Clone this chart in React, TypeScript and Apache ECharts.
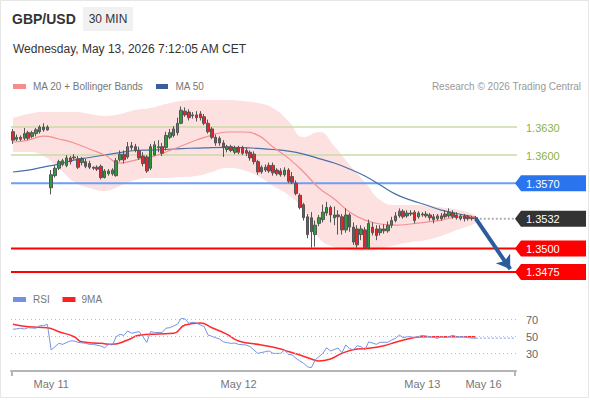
import React, { useEffect, useRef } from 'react';
import * as echarts from 'echarts';

const FONT = 'Liberation Sans, Arial, sans-serif';

const slotCount = 132;
const categories = Array.from({ length: slotCount }, (_, i) => `s${i}`);
const dateLabels = ['May 11', 'May 12', 'May 13', 'May 16'];
const dateLabelSlots = [10, 59, 107, 123];

const opens = [1.3625,1.3617,1.3619,1.3618,1.3624,1.3620,1.3623,1.3625,1.3630,1.3627,
1.3565,1.3578,1.3586,1.3590,1.3589,1.3597,1.3597,1.3596,1.3592,1.3593,
1.3591,1.3587,1.3587,1.3588,1.3576,1.3580,1.3580,1.3578,1.3595,1.3601,
1.3598,1.3610,1.3609,1.3605,1.3599,1.3598,1.3586,1.3600,1.3608,1.3609,
1.3608,1.3619,1.3621,1.3624,1.3634,1.3647,1.3646,1.3642,1.3643,1.3644,
1.3641,1.3634,1.3628,1.3619,1.3618,1.3613,1.3606,1.3609,1.3603,1.3608,
1.3608,1.3605,1.3603,1.3601,1.3593,1.3587,1.3584,1.3589,1.3589,1.3584,
1.3583,1.3579,1.3584,1.3577,1.3570,1.3557,1.3547,1.3534,1.3533,1.3515,
1.3527,1.3531,1.3538,1.3544,1.3533,1.3536,1.3534,1.3520,1.3536,1.3523,
1.3521,1.3515,1.3520,1.3501,1.3523,1.3521,1.3517,1.3521,1.3519,1.3525,
1.3530,1.3535,1.3540,1.3535,1.3538,1.3539,1.3534,1.3537,1.3535,1.3536,
1.3534,1.3532,1.3535,1.3537,1.3535,1.3538,1.3536,1.3532,1.3535,1.3534,
1.3533,1.3533];
const closes = [1.3616,1.3619,1.3617,1.3623,1.3618,1.3624,1.3627,1.3630,1.3627,1.3630,
1.3579,1.3586,1.3593,1.3594,1.3597,1.3593,1.3598,1.3587,1.3596,1.3588,
1.3587,1.3586,1.3585,1.3576,1.3583,1.3583,1.3584,1.3594,1.3601,1.3595,
1.3609,1.3608,1.3605,1.3597,1.3591,1.3583,1.3609,1.3611,1.3609,1.3602,
1.3621,1.3624,1.3628,1.3634,1.3648,1.3643,1.3640,1.3643,1.3640,1.3640,
1.3634,1.3625,1.3619,1.3613,1.3613,1.3608,1.3609,1.3605,1.3608,1.3603,
1.3602,1.3602,1.3597,1.3593,1.3582,1.3582,1.3587,1.3583,1.3581,1.3580,
1.3579,1.3584,1.3572,1.3571,1.3559,1.3544,1.3533,1.3515,1.3518,1.3525,
1.3533,1.3539,1.3544,1.3536,1.3536,1.3534,1.3520,1.3536,1.3523,1.3507,
1.3504,1.3521,1.3501,1.3527,1.3517,1.3514,1.3521,1.3519,1.3525,1.3530,
1.3535,1.3540,1.3534,1.3538,1.3537,1.3530,1.3538,1.3536,1.3537,1.3533,
1.3531,1.3535,1.3532,1.3534,1.3539,1.3534,1.3533,1.3535,1.3532,1.3532,
1.3532,1.3532];
const lows = [1.3612,1.3615,1.3615,1.3616,1.3616,1.3618,1.3620,1.3623,1.3625,1.3626,
1.3558,1.3576,1.3584,1.3588,1.3587,1.3590,1.3595,1.3585,1.3589,1.3586,
1.3585,1.3584,1.3583,1.3574,1.3575,1.3578,1.3578,1.3577,1.3593,1.3591,
1.3596,1.3605,1.3603,1.3595,1.3588,1.3581,1.3584,1.3599,1.3603,1.3599,
1.3605,1.3617,1.3619,1.3621,1.3633,1.3641,1.3637,1.3639,1.3636,1.3637,
1.3632,1.3623,1.3617,1.3610,1.3610,1.3598,1.3603,1.3603,1.3601,1.3601,
1.3600,1.3599,1.3594,1.3590,1.3579,1.3580,1.3582,1.3581,1.3578,1.3578,
1.3577,1.3577,1.3570,1.3569,1.3557,1.3542,1.3530,1.3511,1.3501,1.3502,
1.3524,1.3528,1.3535,1.3528,1.3525,1.3515,1.3515,1.3517,1.3518,1.3504,
1.3501,1.3509,1.3499,1.3499,1.3514,1.3509,1.3514,1.3516,1.3517,1.3522,
1.3528,1.3533,1.3532,1.3533,1.3535,1.3527,1.3532,1.3534,1.3533,1.3530,
1.3527,1.3530,1.3530,1.3532,1.3533,1.3532,1.3531,1.3530,1.3529,1.3530,
1.3530,1.3530];
const highs = [1.3628,1.3622,1.3621,1.3629,1.3626,1.3626,1.3629,1.3632,1.3634,1.3632,
1.3584,1.3589,1.3595,1.3596,1.3600,1.3599,1.3601,1.3599,1.3598,1.3596,
1.3594,1.3588,1.3589,1.3590,1.3585,1.3585,1.3586,1.3597,1.3605,1.3605,
1.3614,1.3614,1.3612,1.3609,1.3603,1.3600,1.3612,1.3615,1.3616,1.3613,
1.3625,1.3628,1.3631,1.3640,1.3652,1.3651,1.3649,1.3646,1.3647,1.3647,
1.3644,1.3638,1.3630,1.3622,1.3620,1.3616,1.3611,1.3611,1.3610,1.3610,
1.3610,1.3608,1.3605,1.3604,1.3595,1.3589,1.3590,1.3592,1.3592,1.3586,
1.3586,1.3587,1.3586,1.3582,1.3573,1.3559,1.3549,1.3537,1.3539,1.3530,
1.3536,1.3547,1.3550,1.3546,1.3545,1.3541,1.3537,1.3543,1.3538,1.3528,
1.3525,1.3525,1.3523,1.3531,1.3528,1.3525,1.3525,1.3526,1.3529,1.3534,
1.3539,1.3543,1.3542,1.3541,1.3541,1.3541,1.3540,1.3539,1.3540,1.3538,
1.3537,1.3537,1.3538,1.3541,1.3543,1.3541,1.3539,1.3537,1.3537,1.3536,
1.3535,1.3535];

const indicatorSlots = [0,4,8,12,16,20,24,28,32,36,40,44,48,52,56,60,64,68,72,76,80,84,88,92,96,100,104,108,112,116,120,121];
const ma20 = [1.3614,1.36161,1.36204,1.36172,1.36129,1.36065,1.36001,1.35915,1.35947,1.35979,1.36033,1.36097,1.36161,1.36214,1.36247,1.36247,1.36214,1.36086,1.35968,1.35819,1.35648,1.3553,1.35391,1.35305,1.35263,1.35252,1.35263,1.35284,1.35305,1.35337,1.35341,1.35337];
const ma50 = [1.35819,1.3584,1.35872,1.35904,1.35947,1.35974,1.36001,1.36027,1.36049,1.36054,1.3606,1.3607,1.36075,1.36081,1.36083,1.36081,1.36072,1.3606,1.36043,1.36011,1.35963,1.35915,1.35851,1.35776,1.3568,1.35583,1.35519,1.35466,1.35412,1.35375,1.35343,1.35337];
const bbUpper = [1.36396,1.36439,1.3646,1.3646,1.3646,1.36439,1.36418,1.36439,1.36482,1.36503,1.36546,1.36578,1.36589,1.36589,1.36589,1.36578,1.36556,1.36503,1.36364,1.36193,1.36247,1.36097,1.35894,1.35712,1.35519,1.35466,1.35466,1.3546,1.35439,1.35417,1.35374,1.35353];
const bbLower = [1.36033,1.36033,1.3599,1.35861,1.35712,1.35648,1.35616,1.35669,1.35733,1.35755,1.35755,1.35765,1.35776,1.35819,1.35861,1.3584,1.35776,1.35669,1.35573,1.35412,1.35113,1.35017,1.34984,1.34974,1.34995,1.35038,1.3507,1.35091,1.35134,1.35198,1.35252,1.35273];

const rsiSlots = [0,2,3,4,6,7,8,9,10,11,12,13,15,16,17,19,20,21,23,24,25,26,27,28,29,30,31,33,34,35,36,37,39,40,41,43,44,45,46,47,48,50,51,53,54,55,56,57,58,59,61,62,64,66,67,68,70,71,72,73,74,75,76,77,78,79,81,82,83,85,86,87,88,89,90,91,92,93,95,96,98,99,100,101,102,103,104,105,107,109,111,112,113,115,116,118,119,121];
const rsiValues = [58.7,59.9,59,60.6,59.9,63,63,64.6,34.4,38.3,42.2,41,45,45,43.4,42.2,41,41,39,37,41,40.2,50,52.8,51.5,56.7,54,56,50,43.4,56,55,55,60,60.6,64.6,71.6,70.8,65.7,67,66,61.8,52,48.8,47.3,44,43,42.2,42.5,41,40.2,38.3,30.4,32.4,33.2,30.4,30.4,34.4,29.3,28.5,24.6,21.4,18.7,14.7,13.5,22.6,30.4,37,33.2,36.7,31,40.2,36,34.4,39.4,38.3,34.4,44,41,43.4,43.4,46.1,48.1,52,48.8,50,50,48.8,51.6,50,48.1,50,48.8,51.6,50,50,48.8,48.1];
const rsiMaSlots = [0,4,9,12,16,18,23,26,30,33,38,42,45,49,52,56,59,65,70,72,75,78,80,83,86,90,93,97,100,104,107,112,116,121];
const rsiMaValues = [64.6,61.8,60.6,55.9,50,44,42.2,41,46.1,51.6,53.2,54,63.8,66,60.6,52.8,45,40.2,35.5,32.5,28.5,23.8,21.4,23.8,30.4,35.5,36.3,39.4,43.4,48.1,50,50,50,50];
const rsiLevels = [70, 50, 30];

const lastSlot = 121;
const lastPrice = 1.3532;
const lastRsi = 48.1;
const arrowEnd = [130, 1.3478];

const levelValues = [1.3630, 1.3600, 1.3570, 1.3532, 1.3500, 1.3475];
const levelKinds = ['target', 'target', 'pivot', 'last', 'support', 'support'];

const levelStyle: Record<string, { line: string | null; width: number; box: string | null; text: string }> = {
  target: { line: '#c8dba6', width: 1.5, box: null, text: '#8cb33f' },
  pivot: { line: '#6e9ef0', width: 2, box: '#2a74ee', text: '#ffffff' },
  last: { line: null, width: 0, box: '#333333', text: '#ffffff' },
  support: { line: '#ff0000', width: 2, box: '#ff0000', text: '#ffffff' },
};

export default function App() {
  const ref = useRef<HTMLDivElement>(null);

  useEffect(() => {
    if (!ref.current) return;
    const chart = echarts.init(ref.current, null, { renderer: 'svg' });

    const candleData = opens.map((o, i) => [o, closes[i], lows[i], highs[i]]);
    const pairs = (xs: number[], ys: number[]) => xs.map((x, i) => [x, ys[i]]);

    const option: any = {
      animation: false,
      textStyle: { fontFamily: FONT },
      grid: [
        { left: 11, right: 74, top: 99, bottom: 114 },
        { left: 11, right: 74, top: 311.2, bottom: 29.3 },
      ],
      xAxis: [
        { type: 'category', gridIndex: 0, data: categories, boundaryGap: true, show: false },
        {
          type: 'category', gridIndex: 1, data: categories, boundaryGap: true,
          axisLine: { lineStyle: { color: '#b5b5b5', width: 2 } },
          axisTick: { show: false },
          axisLabel: {
            interval: 0, color: '#777', fontSize: 11, margin: 8, fontFamily: FONT,
            formatter: (_v: string, idx: number) => {
              const k = dateLabelSlots.indexOf(idx);
              return k >= 0 ? dateLabels[k] : '';
            },
          },
        },
      ],
      yAxis: [
        { type: 'value', gridIndex: 0, min: 1.3460, max: 1.3660, show: false, splitLine: { show: false } },
        { type: 'value', gridIndex: 1, min: 10, max: 80, show: false, splitLine: { show: false } },
      ],
      series: [
        {
          type: 'line', xAxisIndex: 0, yAxisIndex: 0, stack: 'bb', smooth: true, symbol: 'none',
          data: pairs(indicatorSlots, bbLower), lineStyle: { opacity: 0 }, silent: true, z: 1,
        },
        {
          type: 'line', xAxisIndex: 0, yAxisIndex: 0, stack: 'bb', smooth: true, symbol: 'none',
          data: indicatorSlots.map((x, i) => [x, bbUpper[i] - bbLower[i]]),
          lineStyle: { opacity: 0 }, areaStyle: { color: '#fde1e1', opacity: 1 }, silent: true, z: 1,
        },
        {
          type: 'line', xAxisIndex: 0, yAxisIndex: 0, smooth: true, symbol: 'none',
          data: pairs(indicatorSlots, ma50), lineStyle: { color: '#4a6fa9', width: 1.2 }, silent: true, z: 3,
        },
        {
          type: 'line', xAxisIndex: 0, yAxisIndex: 0, smooth: true, symbol: 'none',
          data: pairs(indicatorSlots, ma20), lineStyle: { color: '#f59090', width: 1.2 }, silent: true, z: 3,
        },
        {
          type: 'candlestick', xAxisIndex: 0, yAxisIndex: 0, data: candleData, barWidth: 3, z: 4,
          itemStyle: { color: '#2c9c3c', color0: '#e3262d', borderColor: '#555', borderColor0: '#555', borderWidth: 1 },
        },
        {
          type: 'line', xAxisIndex: 0, yAxisIndex: 0, symbol: 'none',
          data: [[lastSlot, lastPrice], [slotCount - 1, lastPrice]],
          lineStyle: { color: '#b0b0b0', width: 2, type: [2, 2] }, silent: true, z: 3,
          markLine: {
            silent: true, symbol: ['none', 'arrow'], symbolSize: 13, label: { show: false },
            lineStyle: { color: '#2b5d9e', width: 4, type: 'solid' },
            data: [[{ coord: [lastSlot, lastPrice] }, { coord: arrowEnd }]],
          },
        },
        {
          type: 'line', xAxisIndex: 1, yAxisIndex: 1, smooth: true, symbol: 'none',
          data: pairs(rsiMaSlots, rsiMaValues), lineStyle: { color: '#ff2a2a', width: 1.5 }, silent: true, z: 3,
        },
        {
          type: 'line', xAxisIndex: 1, yAxisIndex: 1, symbol: 'none',
          data: pairs(rsiSlots, rsiValues), lineStyle: { color: '#7593e6', width: 1 }, silent: true, z: 4,
          markLine: {
            silent: true, symbol: ['none', 'none'],
            lineStyle: { color: '#bdbdbd', width: 1, type: [1, 3] },
            label: { show: true, position: 'end', distance: 10, color: '#666', fontSize: 11, fontFamily: FONT, formatter: '{c}' },
            data: rsiLevels.map((v) => ({ yAxis: v })),
          },
        },
        {
          type: 'line', xAxisIndex: 1, yAxisIndex: 1, symbol: 'none',
          data: [[lastSlot, lastRsi], [slotCount - 1, lastRsi]],
          lineStyle: { color: '#a8bdf0', width: 1.5, type: [2, 2] }, silent: true, z: 3,
        },
      ],
    };

    chart.setOption(option);

    const yPix = (v: number) => chart.convertToPixel({ yAxisIndex: 0 }, v) as number;
    const txt = (text: string, x: number, y: number, size: number, fill: string, extra: any = {}) => ({
      type: 'text', x, y, silent: true, z: 100,
      style: { text, fill, fontSize: size, fontFamily: FONT, textAlign: 'left', textVerticalAlign: 'middle', align: 'left', verticalAlign: 'middle', ...extra },
    });

    const graphics: any[] = [
      { type: 'rect', shape: { x: 0.5, y: 0.5, width: 588, height: 397 }, style: { fill: 'none', stroke: '#e6e6e6', lineWidth: 1 }, silent: true, z: 100 },
      txt('GBP/USD', 12, 18.5, 14, '#333', { fontWeight: 'bold' }),
      { type: 'rect', shape: { x: 83, y: 7, width: 50, height: 24 }, style: { fill: '#f1f1f1' }, silent: true, z: 99 },
      txt('30 MIN', 108, 19, 12, '#333', { textAlign: 'center', align: 'center' }),
      txt('Wednesday, May 13, 2026 7:12:05 AM CET', 13, 48.5, 12, '#333'),
      { type: 'rect', shape: { x: 13, y: 84, width: 13, height: 5 }, style: { fill: '#f78c8c' }, silent: true, z: 100 },
      txt('MA 20 + Bollinger Bands', 33, 86.5, 10, '#777'),
      { type: 'rect', shape: { x: 156, y: 84, width: 12, height: 5 }, style: { fill: '#3b5f9e' }, silent: true, z: 100 },
      txt('MA 50', 175.5, 86.5, 10, '#777'),
      txt('Research \u00a9 2026 Trading Central', 581, 86.5, 10, '#999', { textAlign: 'right', align: 'right' }),
      { type: 'rect', shape: { x: 13, y: 297, width: 13, height: 5 }, style: { fill: '#7190e6' }, silent: true, z: 100 },
      txt('RSI', 33, 299.5, 10, '#777'),
      { type: 'rect', shape: { x: 62.5, y: 297, width: 13, height: 5 }, style: { fill: '#ff2020' }, silent: true, z: 100 },
      txt('9MA', 81.5, 299.5, 10, '#777'),
      { type: 'line', shape: { x1: 12, y1: 370, x2: 12, y2: 376 }, style: { stroke: '#b5b5b5', lineWidth: 2 }, silent: true, z: 100 },
      { type: 'line', shape: { x1: 515, y1: 370, x2: 515, y2: 376 }, style: { stroke: '#b5b5b5', lineWidth: 2 }, silent: true, z: 100 },
    ];

    levelValues.forEach((v, i) => {
      const st = levelStyle[levelKinds[i]];
      const y = yPix(v);
      const label = v.toFixed(4);
      if (st.line) {
        graphics.push({
          type: 'line', silent: true, z: 2,
          shape: { x1: 11, y1: y, x2: 517, y2: y },
          style: { stroke: st.line, lineWidth: st.width },
        });
      }
      if (st.box) {
        graphics.push({
          type: 'polygon', silent: true, z: 100,
          shape: { points: [[515, y], [521, y - 8], [586, y - 8], [586, y + 8], [521, y + 8]] },
          style: { fill: st.box },
        });
      }
      graphics.push(txt(label, 526, y + 0.5, 11, st.text));
    });

    chart.setOption({ graphic: graphics });

    return () => chart.dispose();
  }, []);

  return (
    <div
      ref={ref}
      style={{ position: 'fixed', left: 0, top: 0, width: 590, height: 400, background: '#fff' }}
    />
  );
}
